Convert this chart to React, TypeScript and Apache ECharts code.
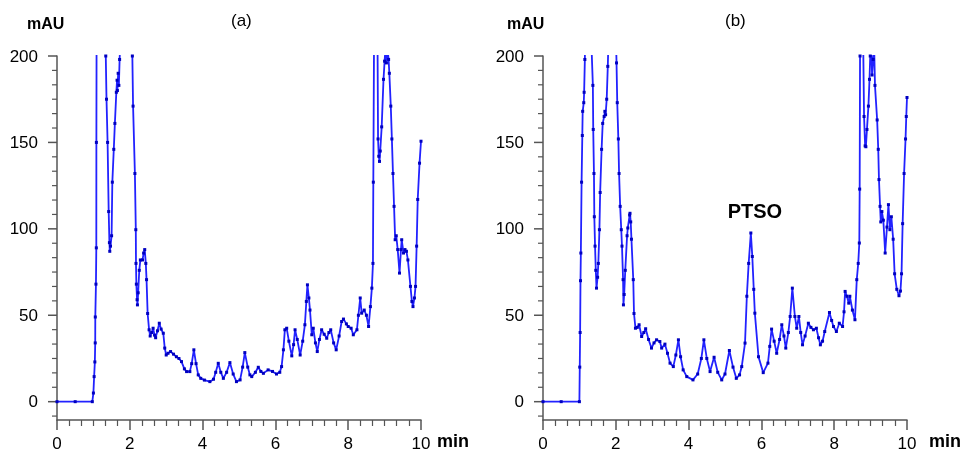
import React, { useEffect, useRef } from "react";
import * as echarts from "echarts";

// Chromatogram (a): retention time (min) and absorbance (mAU)
const timeA = [
  0, 0.5, 0.97, 1.0, 1.02, 1.04, 1.05, 1.052, 1.07, 1.08, 1.082, 1.09, 1.2, 1.32, 1.34, 1.36, 1.39, 1.42, 1.44, 1.45,
  1.47, 1.5, 1.52, 1.56, 1.59, 1.63, 1.65, 1.66, 1.68, 1.7, 1.72, 1.75, 1.9, 2.05, 2.07, 2.09, 2.14, 2.165, 2.17, 2.18,
  2.2, 2.21, 2.23, 2.26, 2.29, 2.35, 2.38, 2.41, 2.44, 2.46, 2.49, 2.53, 2.56, 2.6, 2.64, 2.68, 2.71, 2.76, 2.81, 2.86,
  2.92, 2.96, 3.0, 3.05, 3.12, 3.2, 3.28, 3.35, 3.42, 3.5, 3.56, 3.65, 3.7, 3.76, 3.82, 3.88, 3.95, 4.05, 4.2, 4.3,
  4.36, 4.43, 4.5, 4.57, 4.66, 4.75, 4.84, 4.93, 5.03, 5.1, 5.16, 5.24, 5.3, 5.35, 5.45, 5.53, 5.6, 5.67, 5.8, 5.92,
  6.03, 6.12, 6.17, 6.22, 6.26, 6.31, 6.37, 6.45, 6.5, 6.54, 6.6, 6.68, 6.75, 6.81, 6.85, 6.88, 6.92, 6.95, 7.0, 7.04,
  7.1, 7.15, 7.21, 7.27, 7.34, 7.41, 7.47, 7.52, 7.6, 7.67, 7.75, 7.82, 7.87, 7.95, 8.0, 8.08, 8.14, 8.24, 8.28, 8.33,
  8.37, 8.44, 8.5, 8.56, 8.61, 8.65, 8.68, 8.69, 8.71, 8.76, 8.8, 8.82, 8.84, 8.86, 8.88, 8.92, 8.97, 9.0, 9.02, 9.05,
  9.08, 9.11, 9.13, 9.17, 9.2, 9.23, 9.26, 9.29, 9.32, 9.36, 9.41, 9.45, 9.47, 9.52, 9.56, 9.6, 9.64, 9.71, 9.75, 9.78,
  9.82, 9.85, 9.88, 9.91, 9.96, 10.0,
];
const signalA = [
  0, 0, 0, 5, 14.5, 23, 34, 49, 68, 89, 150, 240, 480, 260, 200, 175, 150, 110, 92, 87,
  90, 96, 127, 146, 161, 179, 186, 180, 190, 183, 198, 215, 300, 215, 200, 171, 132, 99.5, 80, 68,
  59, 56, 63, 76, 82, 82, 86, 88, 80, 70.6, 51, 41.6, 38, 40, 42.5, 38.5, 37, 41, 45.4, 42,
  39.6, 31, 27, 28, 29, 27.5, 26, 25, 23.2, 19, 17.4, 17.4, 22, 30, 22, 15.5, 13.5, 12.5, 11.6, 13,
  17, 22.2, 17, 13.5, 17, 22.6, 16, 11.6, 12.6, 20, 28.4, 20, 15.5, 14.5, 17, 19.9, 17.5, 16.4, 18.4, 17.5,
  16, 17, 20.3, 30, 41.6, 42.5, 35, 26.5, 33, 41.6, 36, 27, 35, 44.5, 58, 67.6, 60, 53, 38.7, 42.5,
  34, 29, 36, 41.6, 39, 36.7, 40, 41.6, 34, 30, 38, 46.4, 47.8, 45, 43.5, 42.5, 38.7, 41.6, 50, 60,
  51.2, 53, 50, 43.5, 55, 65.7, 80, 127, 210, 380, 230, 152, 142, 139, 145, 159, 186.5, 197, 203, 196,
  204, 198, 190, 171, 152, 132, 113, 93.7, 96, 88, 74.4, 88, 93.7, 86, 88, 87, 82, 66.7, 58, 55,
  60, 66.7, 90, 117, 138, 150.7,
];

// Chromatogram (b)
const timeB = [
  0, 0.5, 1.0, 1.01, 1.02, 1.03, 1.04, 1.06, 1.08, 1.09, 1.12, 1.13, 1.15, 1.18, 1.25, 1.32, 1.34, 1.37, 1.38, 1.4,
  1.41, 1.43, 1.45, 1.47, 1.5, 1.52, 1.55, 1.57, 1.61, 1.64, 1.68, 1.7, 1.72, 1.75, 1.78, 1.8, 1.9, 2.0, 2.02, 2.04,
  2.07, 2.09, 2.12, 2.15, 2.17, 2.2, 2.21, 2.23, 2.26, 2.31, 2.33, 2.38, 2.39, 2.41, 2.43, 2.48, 2.5, 2.54, 2.59, 2.64,
  2.71, 2.77, 2.82, 2.9, 2.98, 3.05, 3.12, 3.21, 3.26, 3.35, 3.42, 3.49, 3.58, 3.65, 3.72, 3.78, 3.85, 3.95, 4.12, 4.25,
  4.35, 4.42, 4.5, 4.59, 4.7, 4.8, 4.91, 5.0, 5.12, 5.22, 5.31, 5.4, 5.46, 5.55, 5.6, 5.65, 5.71, 5.75, 5.79, 5.82,
  5.92, 6.05, 6.18, 6.23, 6.28, 6.35, 6.42, 6.5, 6.56, 6.62, 6.67, 6.74, 6.79, 6.85, 6.92, 6.97, 7.03, 7.08, 7.13, 7.2,
  7.29, 7.36, 7.43, 7.51, 7.57, 7.62, 7.68, 7.74, 7.87, 7.93, 7.98, 8.06, 8.14, 8.23, 8.27, 8.3, 8.35, 8.4, 8.43, 8.5,
  8.57, 8.62, 8.66, 8.69, 8.7, 8.71, 8.75, 8.79, 8.8, 8.82, 8.85, 8.87, 8.9, 8.94, 8.97, 8.99, 9.02, 9.04, 9.07, 9.1,
  9.12, 9.18, 9.21, 9.23, 9.26, 9.28, 9.31, 9.35, 9.4, 9.45, 9.49, 9.53, 9.57, 9.62, 9.66, 9.72, 9.78, 9.82, 9.85, 9.88,
  9.92, 9.96, 9.98, 10.0,
];
const signalB = [
  0, 0, 0, 20, 40, 70, 86, 127, 154, 168, 173, 179, 198, 240, 420, 240, 201, 183, 157.5, 132,
  107, 90, 76, 65.7, 72, 80, 99.5, 121, 146, 161, 165, 168, 166, 175, 194, 210, 290, 215, 196, 173,
  152, 132, 113, 99.5, 90, 70.6, 56, 62, 76, 96, 100.5, 108, 109, 104, 94, 70.6, 51, 42.5, 43, 44.5,
  37.7, 40, 42.2, 36, 31, 34, 35.8, 34.8, 31, 33.3, 28, 22.3, 20.3, 27, 35.8, 26, 18.4, 14.5, 12.6, 16,
  25, 35.8, 25, 17.4, 25.7, 17, 12.6, 16, 29.6, 20, 13.5, 15.5, 20.3, 33.9, 61, 80, 97.6, 84, 65, 51.2,
  26, 16.8, 22.3, 32, 42, 35, 28, 36, 44.5, 38, 31, 40, 49.3, 65.7, 49.3, 42.5, 49.3, 40, 32.9, 38,
  45.4, 43, 41.6, 42.5, 37, 32.9, 35, 40.6, 51.6, 47, 43.5, 40.6, 45.4, 43.5, 52, 63.8, 61, 57, 61, 53,
  47.4, 70.6, 80, 91.8, 123, 200, 330, 220, 201, 165, 148, 147.5, 157.5, 171, 186.5, 200, 205, 189, 198, 203,
  183, 163, 146, 128.5, 113, 104, 110, 105, 86, 101, 114, 99.5, 107, 94, 74, 65, 61.3, 64, 74, 103,
  132, 152, 165, 176,
];

const yLabelTicks = [0, 50, 100, 150, 200];
const yMinorPerMajor = 6;
const xMajorStep = 2;
const xMinorPerMajor = 6;
const peakLabel = { text: "PTSO", time: 5.82, value: 97.6 };

const AXIS_COLOR = "#555555";
const X_MIN = 0;
const X_MAX = 10;
const Y_MIN = -10.6;
const Y_MAX = 200;

const yMinorTicks: number[] = [];
{
  const step = (yLabelTicks[1] - yLabelTicks[0]) / yMinorPerMajor;
  for (let k = -1; k * step <= Y_MAX + 1e-6; k++) {
    const v = +(k * step).toFixed(4);
    if (v >= Y_MIN && k % yMinorPerMajor !== 0) yMinorTicks.push(v);
  }
}

function pairs(t: number[], v: number[]) {
  return t.map((x, i) => [x, v[i]]);
}

function xAxisFor(gridIndex: number) {
  return {
    gridIndex,
    type: "value",
    min: X_MIN,
    max: X_MAX,
    interval: xMajorStep,
    axisLine: { show: true, onZero: false, lineStyle: { color: AXIS_COLOR, width: 1.5 } },
    axisTick: { show: true, length: 10, lineStyle: { color: AXIS_COLOR, width: 1.5 } },
    minorTick: { show: true, splitNumber: xMinorPerMajor, length: 6, lineStyle: { color: AXIS_COLOR, width: 1.2 } },
    splitLine: { show: false },
    minorSplitLine: { show: false },
    axisLabel: { color: "#000", fontSize: 17, margin: 15 },
  };
}

function yAxisFor(gridIndex: number) {
  return {
    gridIndex,
    type: "value",
    min: Y_MIN,
    max: Y_MAX,
    axisLine: { show: true, lineStyle: { color: AXIS_COLOR, width: 1.5 } },
    axisTick: { show: false },
    axisLabel: {
      color: "#000",
      fontSize: 17,
      margin: 19,
      formatter: (v: number) => (v < 0 ? "" : String(v)),
    },
    splitLine: { show: false },
  };
}

// Y tick marks, placed through the axis scale (api.coord)
function yTickSeries(axisIndex: number, values: number[], len: number, width: number) {
  return {
    type: "custom",
    xAxisIndex: axisIndex,
    yAxisIndex: axisIndex,
    silent: true,
    clip: false,
    data: values.map((v) => [X_MIN, v]),
    renderItem: (_params: any, api: any) => {
      const p = api.coord([api.value(0), api.value(1)]);
      return {
        type: "line",
        shape: { x1: p[0] - len, y1: p[1], x2: p[0], y2: p[1] },
        style: { stroke: AXIS_COLOR, lineWidth: width },
      };
    },
  };
}

const lineSeries = (axisIndex: number, data: number[][]) => ({
  type: "line",
  xAxisIndex: axisIndex,
  yAxisIndex: axisIndex,
  data,
  clip: true,
  symbol: "rect",
  symbolSize: 3,
  showSymbol: true,
  lineStyle: { color: "#2222ff", width: 1.8 },
  itemStyle: { color: "#0000c0" },
  emphasis: { disabled: true },
});

const textTitle = (left: number, top: number, text: string, size: number, weight: string) => ({
  text,
  left,
  top,
  padding: 0,
  textStyle: { color: "#000", fontSize: size, fontWeight: weight, lineHeight: size },
});

export default function App() {
  const ref = useRef<HTMLDivElement>(null);

  useEffect(() => {
    if (!ref.current) return;
    const chart = echarts.init(ref.current, null, { renderer: "svg" });
    const seriesB: any = lineSeries(1, pairs(timeB, signalB));
    seriesB.markPoint = {
      symbol: "circle",
      symbolSize: 0,
      silent: true,
      data: [{ coord: [peakLabel.time, peakLabel.value], value: peakLabel.text }],
      label: {
        show: true,
        position: "top",
        distance: 12,
        formatter: peakLabel.text,
        color: "#000",
        fontSize: 20,
        fontWeight: "bold",
      },
    };
    chart.setOption({
      animation: false,
      title: [
        textTitle(27, 15, "mAU", 16, "bold"),
        textTitle(507, 15, "mAU", 16, "bold"),
        textTitle(231, 12, "(a)", 17, "normal"),
        textTitle(725, 12, "(b)", 17, "normal"),
        textTitle(437, 432, "min", 18, "bold"),
        textTitle(929, 432, "min", 18, "bold"),
      ],
      grid: [
        { left: 57, top: 56, width: 364, height: 364 },
        { left: 543, top: 56, width: 364, height: 364 },
      ],
      xAxis: [xAxisFor(0), xAxisFor(1)],
      yAxis: [yAxisFor(0), yAxisFor(1)],
      series: [
        lineSeries(0, pairs(timeA, signalA)),
        seriesB,
        yTickSeries(0, yLabelTicks, 9, 1.5),
        yTickSeries(0, yMinorTicks, 5, 1.2),
        yTickSeries(1, yLabelTicks, 9, 1.5),
        yTickSeries(1, yMinorTicks, 5, 1.2),
      ],
    });
    return () => chart.dispose();
  }, []);

  return <div ref={ref} style={{ position: "fixed", left: 0, top: 0, width: 965, height: 452 }} />;
}
